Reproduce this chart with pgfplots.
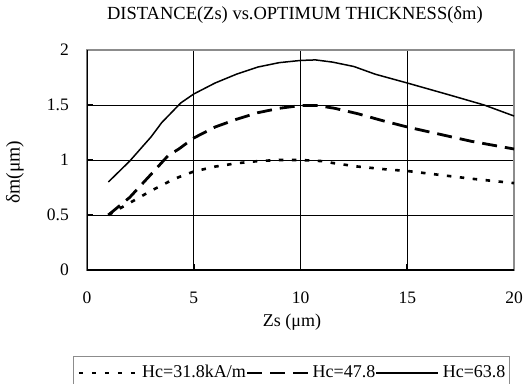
\documentclass[border=0pt]{standalone}
\usepackage{fontspec}
\setmainfont{Liberation Serif}
\usepackage{pgfplots}
\pgfplotsset{compat=1.18}
\newcommand{\lf}{\fontsize{18}{20}\selectfont}
\begin{document}
\fontsize{18}{20}\selectfont
\begin{tikzpicture}
\begin{axis}[
  scale only axis, width=427pt, height=220pt,
  xmin=0, xmax=20, ymin=0, ymax=2,
  xtick={0,5,10,15,20}, ytick={0,0.5,1,1.5,2},
  /pgf/number format/assume math mode=true,
  tick pos=left, tick align=inside, major tick length=6pt,
  tick style={black, line width=1.6pt},
  grid=major, grid style={black, line width=0.8pt},
  axis line style={black!45, line width=1.5pt},
  ticklabel style={font=\fontsize{17.5}{20}\selectfont},
  xticklabel style={yshift=-16pt},
  yticklabel style={xshift=-12pt},
  title={DISTANCE(Zs) vs.OPTIMUM THICKNESS(δm)},
  title style={at={(0.487,1)}, anchor=center, yshift=29pt, font=\fontsize{18.5}{21}\selectfont},
  xlabel={Zs (μm)},
  xlabel style={at={(0.48,0)}, anchor=center, yshift=-52pt},
  ylabel={δm(μm)},
  ylabel style={at={(-0.169,0.445)}, anchor=center, font=\fontsize{19.5}{21}\selectfont},
  legend columns=3,
  legend style={at={(-0.0328,-0.39)}, anchor=north west, draw=black!45, line width=1.2pt, inner xsep=4pt, inner ysep=7pt, nodes={inner xsep=0pt}, font=\lf},
  legend cell align=left,
  legend image code/.code={\draw[#1] (0pt,0pt) -- (62pt,0pt);},
]
\addplot[black, line width=2.6pt, dash pattern=on 4.5pt off 8.5pt] coordinates {
(1,0.50)(2,0.61)(3,0.72)(4,0.82)(4.5,0.86)(5,0.895)(6,0.94)(7,0.97)(8,0.99)(9,1.0)(10,1.0)(11,0.99)(11.6,0.97)(12.7,0.94)(14,0.915)(15,0.90)(16.5,0.865)(18,0.83)(20,0.79)};
\addlegendentry{\lf Hc=31.8kA/m\hspace{6pt}}
\addplot[black, line width=2.8pt, dash pattern=on 15pt off 8pt] coordinates {
(1,0.50)(2,0.66)(3,0.87)(3.8,1.04)(4.3,1.10)(5,1.20)(6,1.30)(7,1.37)(8,1.43)(9,1.47)(10,1.495)(10.8,1.495)(11.6,1.47)(12.7,1.42)(13.8,1.36)(15,1.30)(16.5,1.235)(18,1.17)(20,1.10)};
\addlegendentry{\lf\hspace{2pt}Hc=47.8\hspace{6pt}}
\addplot[black, line width=1.5pt] coordinates {
(1,0.80)(2,0.99)(3,1.21)(3.5,1.34)(4.4,1.52)(5,1.60)(6,1.70)(7,1.78)(8,1.845)(9,1.885)(10,1.905)(10.7,1.91)(11.5,1.89)(12.5,1.85)(13.5,1.78)(15,1.70)(17,1.59)(18.6,1.50)(20,1.40)};
\addlegendentry{\lf\hspace{4pt}Hc=63.8\hspace{15pt}}
\draw[black, line width=2.5pt] (rel axis cs:0,1) -- (rel axis cs:0,0) -- (rel axis cs:1,0);
\end{axis}
\pgfresetboundingbox
\path[use as bounding box] (-87pt,-113pt) rectangle (437pt,270pt);
\end{tikzpicture}
\end{document}
